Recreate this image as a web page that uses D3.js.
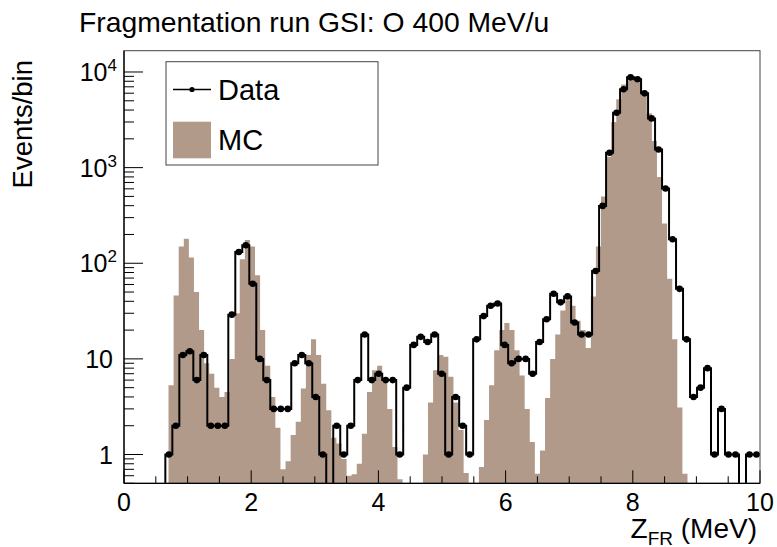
<!DOCTYPE html>
<html>
<head>
<meta charset="utf-8">
<script src="https://cdn.jsdelivr.net/npm/d3@7"></script>
<style>
  body { margin: 0; background: #fff; }
  svg text { font-family: "Liberation Sans", Arial, Helvetica, sans-serif; fill: #000; }
</style>
</head>
<body>
<svg id="chart" width="777" height="547"></svg>
<script>
// data histogram: 85 bins of 0.11, first low edge at 0.65
const dataLow = 0.65
const dataWidth = 0.11
const dataCounts = [
  1, 2, 11, 12, 6, 11, 2, 2, 2, 29,
  131, 154, 61, 10, 6, 3, 3, 3, 9, 11,
  9, 4, 1, 0, 2, 1, 2, 6, 18, 6,
  7, 6, 6, 1, 5, 14, 17, 15, 18, 7,
  1, 4, 2, 1, 16, 28, 36, 38, 14, 9,
  10, 10, 7, 15, 26, 48, 39, 45, 24, 18,
  18, 83, 398, 1430, 3750, 6590, 8790, 8390, 5980, 3270,
  1550, 606, 178, 54, 16, 4, 5, 8, 1, 3,
  1, 1, 0, 1, 1
]

// MC histogram: 102 bins of 0.08, first low edge at 0.70
const mcLow = 0.70
const mcWidth = 0.08
const mcCounts = [
  5.3, 46, 150, 180, 115, 50, 20, 9, 7, 5,
  4, 4.5, 10, 30, 110, 175, 150, 75, 20, 8.5,
  4, 1.9, 0.7, 0.85, 1.6, 2.2, 4.9, 11, 16, 11,
  5.5, 2.9, 1.5, 1.3, 0.9, 0.6, 0.62, 0.8, 1.65, 4.5,
  7.6, 8.5, 6.2, 3, 1.2, 0.55, 0, 0, 0, 0,
  1.0, 3.5, 7.6, 11, 10.5, 6.5, 3.5, 1.8, 0.64, 0,
  0, 0.74, 2.3, 5.3, 12.3, 20, 23.7, 20, 12.3, 6.7,
  3, 1.35, 0.63, 1.1, 3.9, 10, 18, 32, 41, 36,
  25, 20, 13, 45, 150, 500, 1300, 3000, 5200, 7400,
  8200, 8300, 7800, 6000, 3700, 1900, 800, 260, 69, 16,
  3.1, 0.63
]

const xMajor = [0, 2, 4, 6, 8, 10]
const yMajor = [1, 10, 100, 1000, 10000]
const yExponents = [null, null, 2, 3, 4]
const titleText = 'Fragmentation run GSI: O 400 MeV/u'
const yTitle = 'Events/bin'
const legendLabels = ['Data', 'MC']

const mcColor = '#b29a8b'

const plotLeft = 124, plotRight = 760, plotTop = 50.7, plotBottom = 483.3

const svg = d3.select('#chart')

const x = d3.scaleLinear().domain([0, 10]).range([plotLeft, plotRight])
const y = d3.scaleLog().domain([0.5, 16700]).range([plotBottom, plotTop])

function yv(v) {
    if (v <= 0) return plotBottom + 5
    return y(v)
}

svg.append('clipPath').attr('id', 'plotclip')
    .append('rect')
    .attr('x', plotLeft).attr('y', plotTop)
    .attr('width', plotRight - plotLeft).attr('height', plotBottom - plotTop)

const plot = svg.append('g').attr('clip-path', 'url(#plotclip)')

// MC filled histogram
let mcPts = mcCounts.map(function (v, j) {
    return { e: mcLow + j * mcWidth, v: v }
})
mcPts.push({ e: mcLow + mcCounts.length * mcWidth, v: mcCounts[mcCounts.length - 1] })

const mcArea = d3.area()
    .curve(d3.curveStepAfter)
    .x(function (d) { return x(d.e) })
    .y0(plotBottom + 5)
    .y1(function (d) { return yv(d.v) })

plot.append('path')
    .attr('d', mcArea(mcPts))
    .attr('fill', mcColor)
    .attr('stroke', 'none')

// data step line
let dataPts = [{ e: dataLow, v: 0 }]
dataCounts.forEach(function (v, i) {
    dataPts.push({ e: dataLow + i * dataWidth, v: v })
})
dataPts.push({ e: dataLow + dataCounts.length * dataWidth, v: dataCounts[dataCounts.length - 1] })

const stepLine = d3.line()
    .curve(d3.curveStepAfter)
    .x(function (d) { return x(d.e) })
    .y(function (d) { return yv(d.v) })

plot.append('path')
    .attr('d', stepLine(dataPts))
    .attr('fill', 'none')
    .attr('stroke', '#000')
    .attr('stroke-width', 2)

plot.selectAll('circle.pt')
    .data(dataCounts.map(function (v, i) { return { c: dataLow + (i + 0.5) * dataWidth, v: v } })
        .filter(function (d) { return d.v > 0 }))
    .enter()
    .append('circle')
    .attr('class', 'pt')
    .attr('cx', function (d) { return x(d.c) })
    .attr('cy', function (d) { return y(d.v) })
    .attr('r', 3.3)
    .attr('fill', '#000')

// frame
svg.append('rect')
    .attr('x', plotLeft).attr('y', plotTop)
    .attr('width', plotRight - plotLeft).attr('height', plotBottom - plotTop)
    .attr('fill', 'none')
    .attr('stroke', '#444')
    .attr('stroke-width', 1)

// x axis ticks (inside, pointing up)
const xMinor = d3.range(0, 10.001, 0.5)
svg.selectAll('line.xt')
    .data(xMinor)
    .enter()
    .append('line')
    .attr('x1', function (d) { return x(d) })
    .attr('x2', function (d) { return x(d) })
    .attr('y1', plotBottom)
    .attr('y2', function (d) { return xMajor.indexOf(d) >= 0 ? plotBottom - 13 : plotBottom - 7 })
    .attr('stroke', '#000')
    .attr('stroke-width', 1)

svg.append('line')
    .attr('x1', plotLeft).attr('x2', plotRight)
    .attr('y1', plotBottom).attr('y2', plotBottom)
    .attr('stroke', '#000').attr('stroke-width', 1.3)

svg.selectAll('text.xl')
    .data(xMajor)
    .enter()
    .append('text')
    .attr('x', function (d) { return x(d) })
    .attr('y', 511)
    .attr('text-anchor', 'middle')
    .style('font-size', '25px')
    .text(function (d) { return d })

// y axis ticks
let yMinor = []
for (let dec = 0.1; dec <= 10000; dec *= 10) {
    for (let m = 1; m <= 9; m++) {
        const v = +(m * dec).toPrecision(3)
        if (v >= 0.5 && v <= 16700) yMinor.push(v)
    }
}
svg.selectAll('line.yt')
    .data(yMinor)
    .enter()
    .append('line')
    .attr('x1', plotLeft)
    .attr('x2', function (d) { return yMajor.indexOf(d) >= 0 ? plotLeft + 19 : plotLeft + 10 })
    .attr('y1', function (d) { return y(d) })
    .attr('y2', function (d) { return y(d) })
    .attr('stroke', '#000')
    .attr('stroke-width', 1)

svg.append('line')
    .attr('x1', plotLeft).attr('x2', plotLeft)
    .attr('y1', plotTop).attr('y2', plotBottom)
    .attr('stroke', '#000').attr('stroke-width', 1.3)

yMajor.forEach(function (v, k) {
    const t = svg.append('text')
        .attr('y', y(v) + 9)
        .attr('text-anchor', 'end')
        .style('font-size', '25px')
    if (yExponents[k] === null) {
        t.attr('x', 113).text(v)
    } else {
        t.attr('x', 117)
        t.append('tspan').text('10')
        t.append('tspan').attr('dy', -10).style('font-size', '17px').text(yExponents[k])
    }
})

// titles
svg.append('text')
    .attr('x', 79).attr('y', 31.5)
    .style('font-size', '28.3px')
    .text(titleText)

svg.append('text')
    .attr('transform', 'translate(32,60) rotate(-90)')
    .attr('text-anchor', 'end')
    .style('font-size', '27.5px')
    .text(yTitle)

const xt = svg.append('text')
    .attr('x', 757).attr('y', 538)
    .attr('text-anchor', 'end')
    .style('font-size', '28px')
xt.append('tspan').text('Z')
xt.append('tspan').attr('dy', 7).style('font-size', '19px').text('FR')
xt.append('tspan').attr('dy', -7).text(' (MeV)')

// legend
const lg = svg.append('g')
lg.append('rect')
    .attr('x', 166).attr('y', 61.7)
    .attr('width', 212).attr('height', 103.3)
    .attr('fill', '#fff')
    .attr('stroke', '#444')
    .attr('stroke-width', 1)
lg.append('line')
    .attr('x1', 173).attr('x2', 211)
    .attr('y1', 89.5).attr('y2', 89.5)
    .attr('stroke', '#000').attr('stroke-width', 1.5)
lg.append('circle')
    .attr('cx', 192).attr('cy', 89.5).attr('r', 2.6)
    .attr('fill', '#000')
lg.append('rect')
    .attr('x', 173).attr('y', 121.7)
    .attr('width', 38).attr('height', 36.6)
    .attr('fill', mcColor)
lg.selectAll('text.lt')
    .data(legendLabels)
    .enter()
    .append('text')
    .attr('x', 218)
    .attr('y', function (d, i) { return i === 0 ? 100 : 150 })
    .style('font-size', '29px')
    .text(function (d) { return d })
</script>
</body>
</html>
